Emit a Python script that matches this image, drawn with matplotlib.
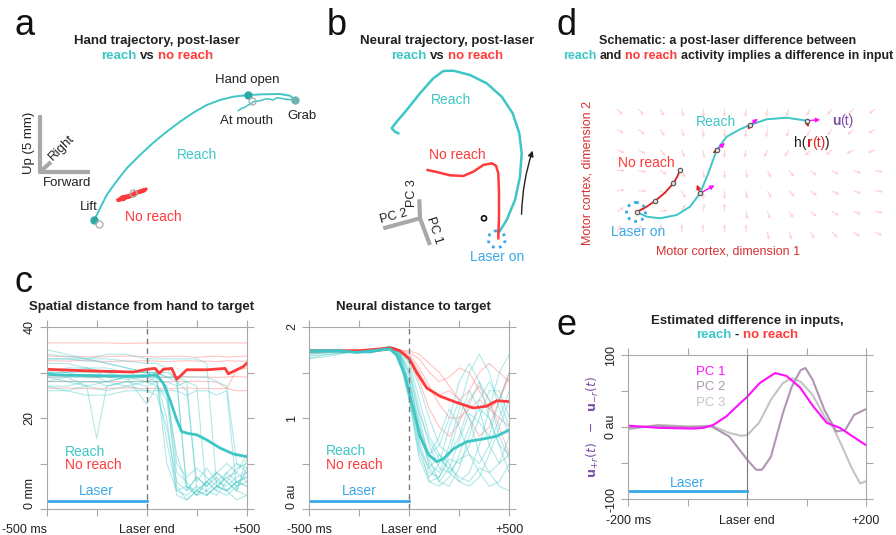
import matplotlib
matplotlib.use("Agg")
import matplotlib.pyplot as plt
import numpy as np
from matplotlib.transforms import offset_copy

plt.rcParams['font.family'] = ['Liberation Sans', 'DejaVu Sans']

TEAL = '#3ec6c6'
RED = '#ff3a3a'
BLUE = '#3aa8e8'
MAGENTA = '#ff10ff'
PURPLE = '#7b4fa6'
DARK = '#222222'
GRAY = '#a8a8a8'
TITLE = 9.5

# ---------------- panel a : hand trajectory (drawing coordinates, px)
hand_x = [94.3, 100, 106.7, 115, 126.7, 140, 153.3, 166.7, 180, 193.3, 206.7, 220, 233.3, 248.3, 263.3, 280, 290, 295]
hand_y = [220, 208.3, 195, 183.3, 168.3, 155, 142.7, 131.7, 121.7, 112.7, 105, 100, 96.7, 95, 94.3, 94, 95.7, 100]
back_x = [295, 286.7, 276.7, 273.3, 266.7, 260, 253.3, 250, 246.7, 245, 241.7, 238.3]
back_y = [100, 99.3, 97.7, 100, 98.7, 100.7, 101.7, 104, 106, 107.3, 108.3, 110.7]
noreach_x = [118, 121, 124, 122, 127, 131, 129, 134, 137, 135, 140, 143, 141, 146, 144, 139, 136, 132, 128, 124, 120]
noreach_y = [200, 198, 199, 197, 196, 195, 197, 193, 192, 194, 191, 190, 192, 189, 191, 192, 194, 196, 197, 199, 200]

# ---------------- panel b : neural trajectory
nb_reach_x = [498.3, 506.7, 515, 520, 521.7, 519.3, 512.7, 501.7, 486.7, 470, 453.3, 443.3, 433.3, 420, 406.7, 396.7, 391.7, 395, 398.3]
nb_reach_y = [233.3, 220, 200, 176.7, 153.3, 133.3, 113.3, 96.7, 83.3, 75, 70.7, 71, 78.3, 93.3, 110, 121.7, 128.3, 131.7, 133.3]
nb_nore_x = [498.3, 499, 499, 498.3, 496, 491.7, 483.3, 473.3, 463.3, 450, 436.7, 427.7]
nb_nore_y = [238.3, 216.7, 193.3, 173.3, 165.7, 163.3, 165, 171.7, 176, 175.3, 172, 170]

# ---------------- panel d : schematic
d_reach_x = [636.7, 646.7, 660, 676.7, 690, 700, 708.3, 716.7, 726.7, 740, 750, 766.7, 786.7, 806.7]
d_reach_y = [212, 216.7, 218.3, 215, 206.7, 193.3, 173.3, 150, 136.7, 129.3, 125, 119.3, 117.7, 120.7]
d_nore_x = [636.7, 646.7, 655, 665, 673.3, 677.3, 680]
d_nore_y = [212, 206.7, 201, 192.7, 183.3, 176.7, 170]
d_pts_x = [700, 717, 750, 806.7]
d_pts_y = [193.3, 150, 125, 120.7]
d_u_x = [717, 727, 760, 823]
d_u_y = [184, 141, 117, 119.5]
d_h_x = [696, 713, 748, 809]
d_h_y = [182, 153, 130, 130]
field_x = np.arange(617, 880, 21.5)
field_y = np.arange(109, 240, 20.5)
field_angle = [
    [-45, -50, -60, -75, -85, -90, -95, -100, -110, -120, -130, -135, -140],
    [-30, -40, -55, -70, -85, -90, -95, -100, -110, -120, -130, -140, -150],
    [-20, -30, -45, -65, -80, -90, -100, -115, -125, -135, -140, -150, -160],
    [0, -10, -30, -60, -80, -90, -80, -65, -50, -40, -30, -20, -10],
    [10, 0, -20, -60, -85, -90, -80, -60, -45, -35, -25, -15, -5],
    [30, 20, 10, 60, 80, 90, -80, -70, -55, -40, -30, -20, -10],
    [60, 70, 80, 85, 90, 90, 90, -80, -70, -60, -45, -35, -25],
]

# ---------------- panel c : spatial distance (mm)
t_sp = [-500, -400, -300, -250, -200, -100, 0, 50, 100, 150, 200, 250, 300, 350, 400, 450, 500]
sp_reach_trials = [
    [33, 33, 32.5, 32.5, 32, 31, 30, 29, 10, 4, 3, 5, 4, 6, 5, 7, 8],
    [30, 30, 29, 29, 29, 28.5, 29, 28, 20, 3, 2, 4, 3, 5, 4, 6, 5],
    [29, 28, 28, 28, 28, 29, 28, 27, 24, 8, 6, 3, 6, 8, 6, 9, 10],
    [34, 33.5, 33, 33, 33, 32.5, 32, 32, 31, 28, 5, 3, 4, 3, 6, 4, 3],
    [31, 30, 30, 30, 29, 29, 29, 29, 29, 29, 28, 4, 3, 5, 7, 5, 6],
    [28, 28, 27, 27.5, 28, 27, 28, 29, 27, 10, 7, 9, 7, 5, 7, 8, 6],
    [29, 29, 27, 15.5, 27, 28, 28, 28, 28, 27, 28, 27, 3, 5, 4, 6, 7],
    [27, 26, 27, 26.5, 26, 27, 26, 25, 18, 6, 4, 7, 5, 8, 6, 4, 9],
    [33, 33, 33, 33.5, 34, 34, 33, 33, 33, 33, 33, 33, 32, 5, 4, 6, 5],
    [30, 30, 31, 30.5, 30, 30, 30, 30, 29, 29, 29, 29, 29, 28, 27, 10, 8],
    [28, 29, 29, 29, 28, 29, 23, 27, 25, 12, 5, 3, 6, 4, 8, 6, 7],
    [35, 34, 33, 32.5, 32, 31, 30, 30, 30, 29, 4, 7, 5, 7, 4, 2, 3],
    [26, 26, 25, 25, 25, 26, 26, 26, 26, 26, 25, 26, 26, 25, 26, 4, 11],
    [32, 32, 31, 31, 31, 30, 30, 29, 27, 5, 2, 4, 6, 4, 3, 5, 8],
    [30, 31, 31, 30, 30, 29, 29, 30, 29, 28, 26, 6, 9, 6, 8, 10, 9],
    [27, 27, 28, 28, 27, 28, 27, 28, 15, 4, 5, 4, 6, 8, 10, 8, 12],
]
sp_nore_trials = [
    [36.5, 36.5, 36.5, 36.5, 36.5, 36.4, 36.5, 36.5, 36.5, 36.5, 36.5, 36.5, 36.5, 36.5, 36.5, 36.5, 36.5],
    [33.6, 33.5, 33.5, 33.4, 33.5, 33.6, 33.5, 33.4, 33.5, 33.6, 33.5, 33.3, 33.5, 33.6, 33.4, 33.5, 33.6],
    [32.6, 32.5, 32.7, 32.5, 32.4, 32.5, 32.6, 32.5, 32.4, 32.5, 32.6, 32.5, 32.5, 32.4, 32.6, 32.5, 32.5],
    [29.0, 29.1, 29.0, 28.9, 29.0, 29.1, 29.0, 29.0, 28.9, 29.0, 29.1, 29.0, 29.0, 28.9, 29.0, 29.1, 29.0],
    [28.0, 28.1, 28.0, 27.9, 28.0, 28.0, 28.1, 28.0, 27.9, 28.0, 28.0, 28.1, 28.0, 27.9, 26.5, 26.0, 26.0],
    [26.5, 26.6, 26.5, 26.4, 26.5, 26.6, 26.5, 26.5, 26.4, 26.5, 26.6, 26.5, 26.5, 26.4, 26.5, 30.5, 31.0],
]
sp_reach_mean_t = [-500, -400, -233, -100, 0, 50, 83, 117, 150, 175, 208, 250, 300, 367, 433, 500]
sp_reach_mean = [29.6, 29.4, 29.3, 29.2, 29.3, 29.5, 27.6, 23.9, 19.6, 17.0, 16.6, 16.3, 15.2, 13.4, 12.1, 11.5]
sp_nore_mean_t = [-500, -317, -67, 0, 42, 63, 83, 125, 150, 175, 200, 300, 392, 408, 450, 483, 500]
sp_nore_mean = [30.7, 30.4, 30.1, 30.7, 30.9, 29.8, 30.7, 30.9, 28.5, 29.5, 30.6, 30.6, 30.9, 29.7, 30.6, 31.3, 32.0]

# ---------------- panel c : neural distance (au)
t_nr = [-500, -400, -300, -200, -100, -50, 0, 50, 100, 150, 200, 250, 300, 350, 400, 450, 500]
nr_reach_trials = [
    [1.72, 1.73, 1.74, 1.72, 1.78, 1.70, 1.35, 0.75, 0.40, 0.35, 0.60, 1.00, 1.30, 1.10, 0.70, 0.50, 0.60],
    [1.70, 1.72, 1.73, 1.71, 1.77, 1.72, 1.50, 1.00, 0.55, 0.30, 0.25, 0.45, 0.80, 1.20, 1.40, 1.20, 0.90],
    [1.65, 1.68, 1.72, 1.73, 1.78, 1.65, 1.20, 0.60, 0.35, 0.50, 0.90, 1.20, 1.00, 0.60, 0.40, 0.50, 0.80],
    [1.74, 1.74, 1.73, 1.72, 1.76, 1.74, 1.60, 1.20, 0.80, 0.60, 0.40, 0.30, 0.40, 0.70, 1.10, 1.50, 1.70],
    [1.73, 1.74, 1.72, 1.73, 1.78, 1.68, 1.30, 0.70, 0.30, 0.25, 0.35, 0.60, 0.90, 1.10, 1.00, 0.70, 0.40],
    [1.68, 1.70, 1.73, 1.72, 1.79, 1.70, 1.40, 0.90, 0.60, 0.70, 1.00, 1.40, 1.60, 1.40, 1.00, 0.70, 0.60],
    [1.72, 1.73, 1.74, 1.73, 1.77, 1.72, 1.55, 1.10, 0.70, 0.45, 0.40, 0.55, 0.60, 0.40, 0.25, 0.30, 0.50],
    [1.74, 1.74, 1.73, 1.72, 1.75, 1.66, 1.25, 0.65, 0.45, 0.60, 0.50, 0.30, 0.25, 0.35, 0.60, 0.90, 1.20],
    [1.70, 1.72, 1.72, 1.73, 1.78, 1.73, 1.45, 0.85, 0.50, 0.40, 0.70, 1.10, 1.50, 1.70, 1.50, 1.10, 0.80],
    [1.73, 1.73, 1.74, 1.72, 1.77, 1.69, 1.30, 0.80, 0.60, 0.80, 1.10, 0.90, 0.60, 0.50, 0.70, 1.00, 1.30],
    [1.66, 1.70, 1.72, 1.73, 1.79, 1.71, 1.50, 1.05, 0.75, 0.55, 0.45, 0.35, 0.30, 0.45, 0.40, 0.25, 0.20],
    [1.72, 1.73, 1.73, 1.72, 1.76, 1.70, 1.40, 0.95, 0.45, 0.30, 0.45, 0.75, 1.05, 0.95, 0.80, 1.20, 1.50],
    [1.73, 1.74, 1.72, 1.73, 1.78, 1.67, 1.20, 0.55, 0.30, 0.35, 0.55, 0.50, 0.70, 1.00, 1.30, 1.30, 1.00],
    [1.71, 1.72, 1.73, 1.72, 1.77, 1.74, 1.62, 1.35, 1.00, 0.70, 0.60, 0.80, 1.15, 1.40, 1.20, 0.80, 0.55],
]
nr_nore_trials = [
    [1.73, 1.74, 1.73, 1.72, 1.75, 1.74, 1.74, 1.70, 1.60, 1.50, 1.35, 1.20, 1.30, 1.50, 1.60, 1.50, 1.40],
    [1.72, 1.73, 1.74, 1.73, 1.76, 1.73, 1.70, 1.55, 1.35, 1.15, 1.00, 1.00, 1.10, 1.20, 1.10, 1.00, 0.90],
    [1.74, 1.74, 1.72, 1.72, 1.75, 1.74, 1.72, 1.65, 1.50, 1.40, 1.45, 1.55, 1.50, 1.30, 1.10, 1.20, 1.45],
    [1.73, 1.73, 1.73, 1.72, 1.76, 1.72, 1.65, 1.40, 1.10, 0.90, 0.80, 0.95, 1.20, 1.35, 1.20, 0.90, 0.60],
    [1.72, 1.73, 1.74, 1.73, 1.75, 1.73, 1.68, 1.50, 1.30, 1.25, 1.30, 1.20, 1.00, 0.80, 0.90, 1.20, 1.50],
]
nr_reach_mean_t = [-500, -347, -263, -180, -97, -63, -22, 12, 53, 95, 137, 170, 220, 287, 370, 437, 500]
nr_reach_mean = [1.74, 1.74, 1.72, 1.74, 1.76, 1.69, 1.47, 1.17, 0.80, 0.60, 0.52, 0.55, 0.66, 0.74, 0.77, 0.80, 0.87]
nr_nore_mean_t = [-500, -250, -88, -47, 0, 37, 87, 153, 237, 320, 387, 437, 500]
nr_nore_mean = [1.74, 1.74, 1.77, 1.74, 1.65, 1.50, 1.33, 1.24, 1.17, 1.11, 1.13, 1.19, 1.18]

# ---------------- panel e : input difference
e_t1 = [-200, -147, -90, -74, -57, -35, -12, 0, 21, 47, 66, 89, 111, 134, 156, 178, 200]
pc1 = [2, -1, -2, -1, 3, 15, 33, 42, 61, 75, 71, 55, 29, 6, -1, -13, -25]
e_t2 = [-200, -150, -100, -60, -30, 0, 15, 25, 40, 60, 75, 90, 98, 110, 130, 150, 165, 180, 200]
pc2 = [-1, 2, 0, 1, -13, -45, -59, -59, -41, 19, 56, 79, 82, 66, 24, -6, -4, 17, 25]
e_t3 = [-200, -150, -100, -60, -30, -10, 0, 20, 40, 60, 75, 90, 110, 130, 145, 160, 175, 190, 200]
pc3 = [-3, 3, 1, 2, -8, -12, -11, 6, 38, 61, 68, 63, 45, 15, -1, -27, -55, -78, -75]


def colored_line(ax, x, y, pieces, size, ha='center'):
    """pieces: (text, colour, weight); drawn side by side on one baseline"""
    fig = ax.figure
    r = fig.canvas.get_renderer()
    space = 0.278 * size * fig.dpi / 72
    objs, widths = [], []
    for s, c, w in pieces:
        t = ax.text(x, y, s.strip(), color=c, fontweight=w, fontsize=size,
                    ha='left', va='baseline')
        objs.append((t, len(s) - len(s.lstrip()), len(s) - len(s.rstrip())))
        widths.append(t.get_window_extent(r).width + space * (objs[-1][1] + objs[-1][2]))
    off = -sum(widths) / 2 if ha == 'center' else 0
    for (t, lead, trail), w in zip(objs, widths):
        t.set_transform(offset_copy(ax.transData, fig=fig, x=off + lead * space, y=0, units='dots'))
        off += w


def style(ax, xt, xl, yt, yl):
    for s in ax.spines.values():
        s.set_color(GRAY)
        s.set_linewidth(0.8)
    ax.set_xticks(xt)
    ax.set_xticklabels(xl)
    ax.set_yticks(yt)
    ax.set_yticklabels(yl, rotation=90, va='center')
    ax.tick_params(direction='out', length=5, width=0.8, color=GRAY, labelsize=9,
                   labelcolor=DARK, top=True, right=True, pad=3)
    ax.tick_params(axis='x', pad=6)


fig = plt.figure(figsize=(8.96, 5.35), dpi=100)
ax0 = fig.add_axes([0, 0, 1, 1])
ax0.set_xlim(0, 896)
ax0.set_ylim(535, 0)
ax0.axis('off')

# panel letters
for s, x, y in [('a', 15, 35), ('b', 327, 35), ('c', 15, 292), ('d', 557, 35), ('e', 557, 335)]:
    ax0.text(x, y, s, fontsize=26, color='#111111', va='baseline')

# ---- panel a
colored_line(ax0, 157, 44, [('Hand trajectory, post-laser', DARK, 'bold')], TITLE)
colored_line(ax0, 157, 59, [('reach', TEAL, 'bold'), (' vs ', DARK, 'bold'), ('no reach', RED, 'bold')], TITLE)
ax0.plot([40, 40, 90], [115, 172, 172], color=GRAY, lw=3, solid_capstyle='butt')
ax0.plot([40, 51], [172, 162], color=GRAY, lw=3, solid_capstyle='butt')
ax0.text(29, 143, 'Up (5 mm)', rotation=90, fontsize=9.5, color=DARK, ha='center', va='center')
ax0.text(62, 148, 'Right', rotation=45, fontsize=9.5, color=DARK, ha='center', va='center')
ax0.text(67, 183, 'Forward', fontsize=9.5, color=DARK, ha='center', va='center')
ax0.plot(hand_x, hand_y, color=TEAL, lw=1.4)
ax0.plot(back_x, back_y, color=TEAL, lw=1.1)
ax0.plot(noreach_x, noreach_y, color=RED, lw=2.4)
ax0.plot([94.3, 248.3], [220, 95], 'o', ms=5, color='#2aa9a9')
ax0.plot([295], [100], 'o', ms=5, color='#6fb3b3')
ax0.plot([99, 252, 133], [224, 101, 193], 'o', ms=5, mfc='none', mec='#b0b0b0', mew=1)
ax0.text(247, 80, 'Hand open', fontsize=9.5, color=DARK, ha='center', va='center')
ax0.text(247, 121, 'At mouth', fontsize=9.5, color=DARK, ha='center', va='center')
ax0.text(302, 116, 'Grab', fontsize=9.5, color=DARK, ha='center', va='center')
ax0.text(197, 155, 'Reach', fontsize=10, color=TEAL, ha='center', va='center')
ax0.text(153, 217, 'No reach', fontsize=10, color=RED, ha='center', va='center')
ax0.text(89, 207, 'Lift', fontsize=9.5, color=DARK, ha='center', va='center')

# ---- panel b
colored_line(ax0, 447, 44, [('Neural trajectory, post-laser', DARK, 'bold')], TITLE)
colored_line(ax0, 447, 59, [('reach', TEAL, 'bold'), (' vs ', DARK, 'bold'), ('no reach', RED, 'bold')], TITLE)
ax0.plot(nb_reach_x, nb_reach_y, color=TEAL, lw=1.8)
ax0.plot(nb_nore_x, nb_nore_y, color=RED, lw=1.8)
ax0.add_patch(plt.Circle((496.7, 239.3), 8.5, fill=False, ec=BLUE, lw=2, ls=(0, (1, 1.6))))
ax0.add_patch(plt.Circle((484, 218.3), 2.5, fill=False, ec='#111111', lw=1.2))
ax0.annotate('', xy=(533.5, 148), xytext=(521.5, 217),
             arrowprops=dict(arrowstyle='-|>', color='#222222', lw=1, mutation_scale=8,
                             connectionstyle='arc3,rad=-0.08'))
ax0.plot([383.3, 420, 430], [228.3, 218.3, 245], color=GRAY, lw=3, solid_capstyle='butt')
ax0.plot([420, 419.3], [218.3, 199.3], color=GRAY, lw=3, solid_capstyle='butt')
ax0.text(394, 216, 'PC 2', rotation=15, fontsize=9, color=DARK, ha='center', va='center')
ax0.text(412, 193, 'PC 3', rotation=90, fontsize=9, color=DARK, ha='center', va='center')
ax0.text(434, 230, 'PC 1', rotation=-72, fontsize=9, color=DARK, ha='center', va='center')
ax0.text(451, 100, 'Reach', fontsize=10, color=TEAL, ha='center', va='center')
ax0.text(457, 155, 'No reach', fontsize=10, color=RED, ha='center', va='center')
ax0.text(497, 257, 'Laser on', fontsize=10, color=BLUE, ha='center', va='center')

# ---- panel d
colored_line(ax0, 728, 44, [('Schematic: a post-laser difference between', DARK, 'bold')], 9)
colored_line(ax0, 728, 59, [('reach', TEAL, 'bold'), (' and ', DARK, 'bold'), ('no reach', RED, 'bold'),
                            (' activity implies a difference in input', DARK, 'bold')], 9)
FX, FY = np.meshgrid(field_x, field_y)
ang = np.radians(np.array(field_angle))
ax0.quiver(FX, FY, 8 * np.cos(ang), -8 * np.sin(ang), angles='xy', scale_units='xy', scale=1,
           color='#ffd0d0', width=0.0012, headwidth=3.5, headlength=3.5, headaxislength=3, zorder=1)
ax0.plot(d_reach_x, d_reach_y, color=TEAL, lw=1.4, zorder=3)
ax0.plot(d_nore_x, d_nore_y, color='#d82020', lw=1.3, zorder=3)
ax0.add_patch(plt.Circle((636, 212), 9.5, fill=False, ec=BLUE, lw=2, ls=(0, (1, 1.6)), zorder=3))
for x0, y0, x1, y1, x2, y2 in zip(d_pts_x, d_pts_y, d_u_x, d_u_y, d_h_x, d_h_y):
    ax0.annotate('', xy=(x1, y1), xytext=(x0, y0),
                 arrowprops=dict(arrowstyle='-|>', color=MAGENTA, lw=1, mutation_scale=6), zorder=4)
    ax0.annotate('', xy=(x2, y2), xytext=(x0, y0),
                 arrowprops=dict(arrowstyle='-|>', color='#e02020', lw=1, mutation_scale=6), zorder=4)
ax0.plot(d_pts_x + [636.7, 655, 673.3, 680], d_pts_y + [212, 201, 183.3, 170], 'o', ms=3.2,
         mfc='#dddddd', mec='#555555', mew=0.8, zorder=5)
ax0.text(716, 122, 'Reach', fontsize=10, color=TEAL, ha='center', va='center')
ax0.text(646, 163, 'No reach', fontsize=10, color=RED, ha='center', va='center')
ax0.text(638, 232, 'Laser on', fontsize=10, color=BLUE, ha='center', va='center')
colored_line(ax0, 812, 147, [('h(', DARK, 'normal'), ('r', '#e02020', 'bold'), ('(t)', '#e02020', 'normal'),
                             (')', DARK, 'normal')], 10)
colored_line(ax0, 832, 125, [('u', PURPLE, 'bold'), ('(t)', PURPLE, 'normal')], 10, ha='left')
ax0.text(588, 173, 'Motor cortex, dimension 2', rotation=90, fontsize=9, color='#d83030', ha='center', va='center')
ax0.text(728, 252, 'Motor cortex, dimension 1', fontsize=9, color='#d83030', ha='center', va='center')

# ---- panel c titles and e title
colored_line(ax0, 142, 310, [('Spatial distance from hand to target', DARK, 'bold')], TITLE)
colored_line(ax0, 413, 310, [('Neural distance to target', DARK, 'bold')], TITLE)
colored_line(ax0, 747, 324, [('Estimated difference in inputs,', DARK, 'bold')], TITLE)
colored_line(ax0, 747, 338, [('reach', TEAL, 'bold'), (' - ', DARK, 'bold'), ('no reach', RED, 'bold')], TITLE)

# ---- panel c, spatial
axc1 = fig.add_axes([46.7 / 896, 26 / 535, 200 / 896, 182 / 535])
for tr in sp_nore_trials:
    axc1.plot(t_sp, tr, color=RED, lw=0.8, alpha=0.3)
for tr in sp_reach_trials:
    axc1.plot(t_sp, tr, color=TEAL, lw=0.8, alpha=0.4)
axc1.plot(sp_nore_mean_t, sp_nore_mean, color=RED, lw=2)
axc1.plot(sp_reach_mean_t, sp_reach_mean, color=TEAL, lw=2)
axc1.axvline(0, color='#777777', lw=1, dashes=(4, 3))
axc1.plot([-500, 0], [1.7, 1.7], color=BLUE, lw=2)
axc1.text(-250, 4.0, 'Laser', color=BLUE, fontsize=10, ha='center', va='center')
axc1.text(-408, 12.6, 'Reach', color=TEAL, fontsize=10, ha='left', va='center')
axc1.text(-408, 9.6, 'No reach', color=RED, fontsize=10, ha='left', va='center')
axc1.set_xlim(-500, 500)
axc1.set_ylim(0, 40)
style(axc1, [-500, -250, 0, 250, 500], ['-500 ms', '', 'Laser end', '', '+500'],
      [0, 10, 20, 30, 40], ['0 mm', '', '20', '', '40'])
axc1.get_xticklabels()[0].set_ha('right')
axc1.get_yticklabels()[0].set_va('bottom')

# ---- panel c, neural
axc2 = fig.add_axes([309.3 / 896, 26 / 535, 200 / 896, 182 / 535])
for tr in nr_nore_trials:
    axc2.plot(t_nr, tr, color=RED, lw=0.8, alpha=0.3)
for tr in nr_reach_trials:
    axc2.plot(t_nr, tr, color=TEAL, lw=0.8, alpha=0.4)
axc2.plot(nr_nore_mean_t, nr_nore_mean, color=RED, lw=2)
axc2.plot(nr_reach_mean_t, nr_reach_mean, color=TEAL, lw=2)
axc2.axvline(0, color='#777777', lw=1, dashes=(4, 3))
axc2.plot([-500, 0], [0.085, 0.085], color=BLUE, lw=2)
axc2.text(-250, 0.2, 'Laser', color=BLUE, fontsize=10, ha='center', va='center')
axc2.text(-417, 0.636, 'Reach', color=TEAL, fontsize=10, ha='left', va='center')
axc2.text(-417, 0.48, 'No reach', color=RED, fontsize=10, ha='left', va='center')
axc2.set_xlim(-500, 500)
axc2.set_ylim(0, 2)
style(axc2, [-500, -250, 0, 250, 500], ['-500 ms', '', 'Laser end', '', '+500'],
      [0, 0.5, 1, 1.5, 2], ['0 au', '', '1', '', '2'])
axc2.get_yticklabels()[0].set_va('bottom')

# ---- panel e
axe = fig.add_axes([628.3 / 896, 35.7 / 535, 237.7 / 896, 144.3 / 535])
axe.plot(e_t3, pc3, color='#c4c4c4', lw=1.5)
axe.plot(e_t2, pc2, color='#b096b2', lw=1.5)
axe.plot(e_t1, pc1, color=MAGENTA, lw=1.5)
axe.axvline(0, color='#777777', lw=0.8)
axe.plot([-200, 0], [-88, -88], color=BLUE, lw=2)
axe.text(-101, -77, 'Laser', color=BLUE, fontsize=10, ha='center', va='center')
axe.text(-86, 77, 'PC 1', color=MAGENTA, fontsize=9.5, ha='left', va='center')
axe.text(-86, 55, 'PC 2', color='#b096b2', fontsize=9.5, ha='left', va='center')
axe.text(-86, 34, 'PC 3', color='#c4c4c4', fontsize=9.5, ha='left', va='center')
axe.set_xlim(-200, 200)
axe.set_ylim(-100, 100)
style(axe, [-200, -100, 0, 100, 200], ['-200 ms', '', 'Laser end', '', '+200'],
      [-100, -50, 0, 50, 100], ['-100', '', '0 au', '', '100'])
ax0.text(593, 427, r'$\mathbf{u}_{+r}(t)\ \ -\ \ \mathbf{u}_{-r}(t)$', rotation=90, fontsize=9,
         color=PURPLE, ha='center', va='center')

fig.savefig('out.png', dpi=100)
